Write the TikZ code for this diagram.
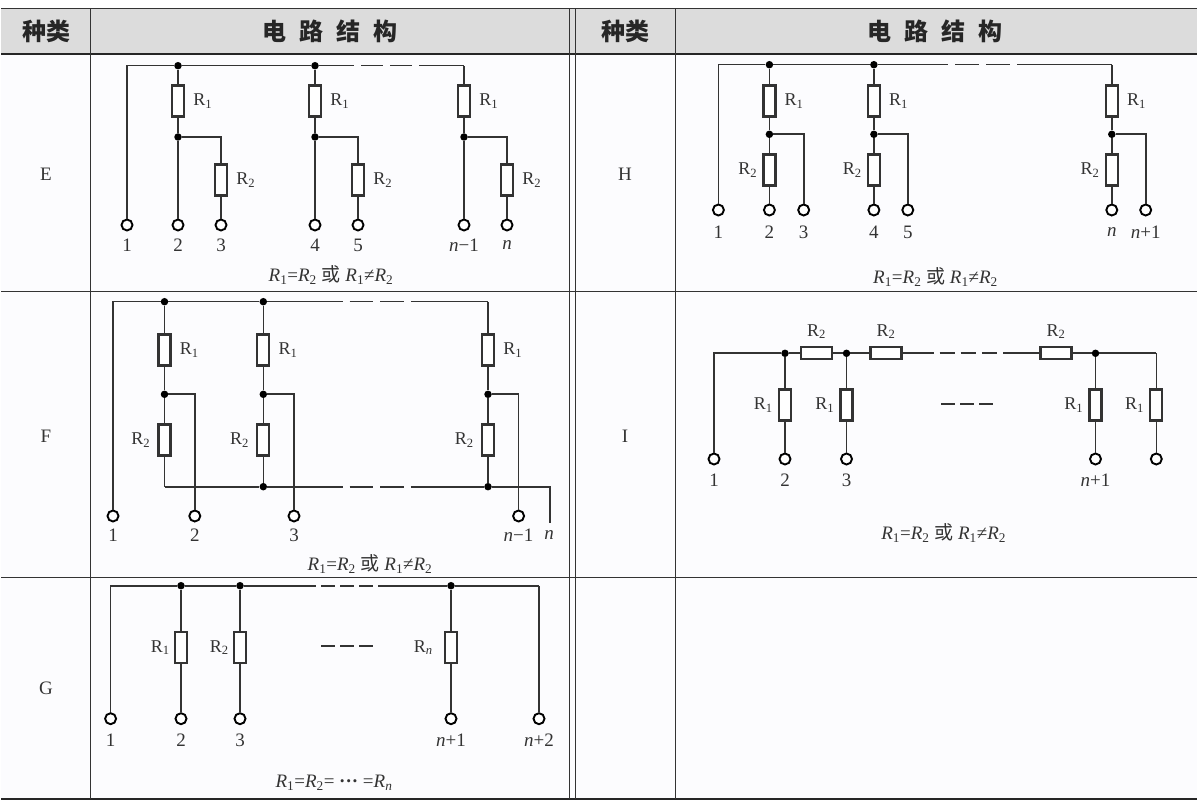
\documentclass[tikz,border=0pt]{standalone}
\usepackage{fontspec}
\setmainfont{Liberation Serif}
\newfontfamily\cjk{Noto Sans CJK SC}
\usetikzlibrary{positioning}
\definecolor{wirec}{HTML}{333333}
\definecolor{headc}{HTML}{DCDCDC}
\definecolor{cellc}{HTML}{FCFCFE}
\newcommand{\Rx}[1]{R\textsubscript{#1}}
\newcommand{\Ri}[1]{\textit{R}\textsubscript{#1}}
\newcommand{\Rform}{\Ri{1}=\Ri{2} {\cjk 或} \Ri{1}≠\Ri{2}}
\tikzset{
    wire/.style={
    draw=wirec,line width=1.6pt
    },
    brk/.style 2 args={
    wire,dash pattern=on #1 off #2,dash phase=#1
    },
    midbrk/.style={
    wire,line width=1.8pt,dash pattern=on 14pt off 5pt
    },
    rule/.style={
    draw=wirec,line width=1pt
    },
    thickrule/.style={
    draw=black!85,line width=2pt
    },
    dotn/.style={
    circle,fill=black,inner sep=0pt,minimum size=7.5pt
    },
    nodot/.style={
    inner sep=0pt,minimum size=0pt
    },
    term/.style={
    circle,draw=black,line width=1.9pt,fill=white,inner sep=0pt,minimum size=11pt
    },
    resv/.style={
    rectangle,draw=wirec,line width=2.2pt,fill=white,inner sep=0pt,minimum width=12pt,minimum height=31pt
    },
    resh/.style={
    rectangle,draw=wirec,line width=2.2pt,fill=white,inner sep=0pt,minimum width=31pt,minimum height=12pt
    },
    rlab/.style={
    inner sep=0pt,text=wirec,font=\fontsize{18}{18}\selectfont
    },
    tlab/.style={
    inner sep=0pt,text=wirec,font=\fontsize{19}{19}\selectfont
    },
    kind/.style={
    inner sep=0pt,text=wirec,font=\fontsize{19}{19}\selectfont
    },
    formula/.style={
    inner sep=0pt,text=wirec,font=\fontsize{19}{19}\selectfont
    },
    head/.style={
    inner sep=0pt,text=black!85,font=\cjk\bfseries\fontsize{24}{24}\selectfont
    },
}
\begin{document}
\begin{tikzpicture}[x=1pt,y=-1pt]
   \useasboundingbox (0,0) rectangle (1200,802);
   \fill[cellc] (1,54) rectangle (1197,799);
   \fill[headc] (1,9) rectangle (1197,54);
   \draw[rule] (1,9) -- (1197,9);
   \draw[thickrule] (1,54) -- (1197,54);
   \draw[rule] (1,292) -- (1197,292);
   \draw[rule] (1,577) -- (1197,577);
   \draw[thickrule] (1,799) -- (1197,799);
   \foreach \xv in {90,569.5,575,675.5}
      \draw[rule] (\xv,9) -- (\xv,799);

   \node[head] (hdA) at (47,31) {种类};
   \node[head] (hdB) at (330,31) {电\hspace{13pt}路\hspace{13pt}结\hspace{13pt}构};
   \node[head] (hdC) at (625,31) {种类};
   \node[head] (hdD) at (935,31) {电\hspace{13pt}路\hspace{13pt}结\hspace{13pt}构};
   \node[kind] (kE) at (46,174) {E};
   \node[kind] (kF) at (46,436) {F};
   \node[kind] (kG) at (46,688) {G};
   \node[kind] (kH) at (625,174) {H};
   \node[kind] (kI) at (625,436) {I};

   \node[term] (eS) at (127,225) {};
   \node[tlab] (eN) at (127,245) {1};
   \coordinate (eGa) at (354,65.7);
   \coordinate (eGb) at (419,65.7);
   \foreach \nm/\xa/\xb/\la/\lb/\st in {a/178/221/2/3/dotn,b/315/358/4/5/dotn,c/464/507/\textit{n}−1/\textit{n}/nodot}{
      \node[\st] (e\nm J) at (\xa,65.7) {};
      \node[resv] (e\nm A) at (\xa,101) {};
      \node[dotn] (e\nm K) at (\xa,137) {};
      \node[resv] (e\nm B) at (\xb,180) {};
      \node[term] (e\nm S) at (\xa,225) {};
      \node[term] (e\nm T) at (\xb,225) {};
      \node[rlab,right=8pt of e\nm A] (e\nm P) {\Rx{1}};
      \node[rlab,right=8pt of e\nm B] (e\nm Q) {\Rx{2}};
      \node[tlab] (e\nm M) at (\xa,245) {\la};
      \node[tlab] (e\nm N) at (\xb,245) {\lb};
      \draw[wire] (e\nm J) -- (e\nm A) -- (e\nm K) -- (e\nm S);
      \draw[wire] (e\nm K) -| (e\nm B);
      \draw[wire] (e\nm B) -- (e\nm T);
   }
   \draw[wire] (eS) |- (eaJ);
   \draw[wire] (eaJ) -- (ebJ) -- (eGa);
   \draw[brk={22pt}{7pt}] (eGa) -- (eGb);
   \draw[wire] (eGb) -- (ecJ);
   \node[formula] (eF) at (331,275) {\Rform};

   \node[term] (fS) at (113,516) {};
   \node[tlab] (fN) at (113,535) {1};
   \coordinate (fGa) at (342.5,301.7);
   \coordinate (fGb) at (411,301.7);
   \coordinate (fGc) at (342.5,486.7);
   \coordinate (fGd) at (411,486.7);
   \coordinate (fE) at (550,523);
   \foreach \nm/\xa/\xb/\la/\st/\sb in {a/164.5/194.8/2/dotn/nodot,b/263.3/294/3/dotn/dotn,c/488/518.6/\textit{n}−1/nodot/dotn}{
      \node[\st] (f\nm J) at (\xa,301.7) {};
      \node[resv] (f\nm A) at (\xa,350) {};
      \node[dotn] (f\nm K) at (\xa,394.3) {};
      \node[resv] (f\nm B) at (\xa,440) {};
      \node[\sb] (f\nm L) at (\xa,486.7) {};
      \node[term] (f\nm T) at (\xb,516) {};
      \node[rlab,right=8pt of f\nm A] (f\nm P) {\Rx{1}};
      \node[rlab,left=7pt of f\nm B] (f\nm Q) {\Rx{2}};
      \node[tlab] (f\nm M) at (\xb,535) {\la};
      \draw[wire] (f\nm J) -- (f\nm A) -- (f\nm K) -- (f\nm B) -- (f\nm L);
      \draw[wire] (f\nm K) -| (f\nm T);
   }
   \draw[wire] (fS) |- (faJ);
   \draw[wire] (faJ) -- (fbJ) -- (fGa);
   \draw[brk={23.7pt}{7pt}] (fGa) -- (fGb);
   \draw[wire] (fGb) -- (fcJ);
   \draw[wire] (faL) -- (fbL) -- (fGc);
   \draw[brk={23.7pt}{7pt}] (fGc) -- (fGd);
   \draw[wire] (fGd) -- (fcL);
   \draw[wire] (fcL) -| (fE);
   \node[tlab] (fO) at (549,535) {\textit{n}};
   \node[formula] (fF) at (370,564) {\Rform};

   \node[term] (gS) at (110.6,718.7) {};
   \node[tlab] (gN) at (110.6,740.7) {1};
   \node[term] (gZ) at (539,718.7) {};
   \node[tlab] (gY) at (539,740.7) {\textit{n}+2};
   \node[nodot] (gC) at (539,585.7) {};
   \coordinate (gGa) at (316,585.7);
   \coordinate (gGb) at (378,585.7);
   \coordinate (gDa) at (321,646.3);
   \coordinate (gDb) at (373,646.3);
   \foreach \nm/\xa/\la/\lr/\gp in {a/181/2/\Rx{1}/4pt,b/240/3/\Rx{2}/4pt,c/451/\textit{n}+1/R\textsubscript{\textit{n}}/11pt}{
      \node[dotn] (g\nm J) at (\xa,585.7) {};
      \node[resv] (g\nm A) at (\xa,647.5) {};
      \node[term] (g\nm T) at (\xa,718.7) {};
      \node[rlab,left=\gp of g\nm A] (g\nm P) {\lr};
      \node[tlab] (g\nm M) at (\xa,740.7) {\la};
      \draw[wire] (g\nm J) -- (g\nm A) -- (g\nm T);
   }
   \draw[wire] (gS) |- (gaJ);
   \draw[wire] (gaJ) -- (gbJ) -- (gGa);
   \draw[brk={14pt}{5pt}] (gGa) -- (gGb);
   \draw[wire] (gGb) -- (gcJ) -- (gC);
   \draw[wire] (gC) -- (gZ);
   \draw[midbrk] (gDa) -- (gDb);
   \node[formula] (gF) at (334,783) {\Ri{1}=\Ri{2}= \textbf{···} =\Ri{\textit{n}}};

   \node[term] (hS) at (718.4,210) {};
   \node[tlab] (hN) at (718.4,232) {1};
   \coordinate (hGa) at (948,64.7);
   \coordinate (hGb) at (1017,64.7);
   \foreach \nm/\xa/\xb/\la/\lb/\st in {a/769.4/803.7/2/3/dotn,b/873.9/907.8/4/5/dotn,c/1111.8/1145.7/\textit{n}/\textit{n}+1/nodot}{
      \node[\st] (h\nm J) at (\xa,64.7) {};
      \node[resv] (h\nm A) at (\xa,101) {};
      \node[dotn] (h\nm K) at (\xa,134.3) {};
      \node[resv] (h\nm B) at (\xa,170) {};
      \node[term] (h\nm S) at (\xa,210) {};
      \node[term] (h\nm T) at (\xb,210) {};
      \node[rlab,right=8pt of h\nm A] (h\nm P) {\Rx{1}};
      \node[rlab,left=5pt of h\nm B] (h\nm Q) {\Rx{2}};
      \node[tlab] (h\nm M) at (\xa,232) {\la};
      \node[tlab] (h\nm N) at (\xb,232) {\lb};
      \draw[wire] (h\nm J) -- (h\nm A) -- (h\nm K) -- (h\nm B) -- (h\nm S);
      \draw[wire] (h\nm K) -| (h\nm T);
   }
   \draw[wire] (hS) |- (haJ);
   \draw[wire] (haJ) -- (hbJ) -- (hGa);
   \draw[brk={24pt}{7pt}] (hGa) -- (hGb);
   \draw[wire] (hGb) -- (hcJ);
   \node[formula] (hF) at (935.5,277) {\Rform};

   \node[term] (iS) at (714,459) {};
   \node[tlab] (iN) at (714,480) {1};
   \node[resh] (iHa) at (816.5,353.3) {};
   \node[resh] (iHb) at (886,353.3) {};
   \node[resh] (iHc) at (1056,353.3) {};
   \foreach \nh in {a,b,c}
      \node[rlab,above=7pt of iH\nh] (iU\nh) {\Rx{2}};
   \coordinate (iGa) at (933.5,353.3);
   \coordinate (iGb) at (1003,353.3);
   \foreach \nm/\xa/\st in {a/785/dotn,b/846.5/dotn,c/1095.5/dotn,d/1156.3/nodot}{
      \node[\st] (i\nm J) at (\xa,353.3) {};
      \node[resv] (i\nm A) at (\xa,405) {};
      \node[term] (i\nm T) at (\xa,459) {};
      \node[rlab,left=5pt of i\nm A] (i\nm P) {\Rx{1}};
      \draw[wire] (i\nm J) -- (i\nm A) -- (i\nm T);
   }
   \node[tlab] (iMa) at (785,480) {2};
   \node[tlab] (iMb) at (846.5,480) {3};
   \node[tlab] (iMc) at (1095.5,480) {\textit{n}+1};
   \draw[wire] (iS) |- (iaJ);
   \draw[wire] (iaJ) -- (iHa) -- (ibJ) -- (iHb) -- (iGa);
   \draw[brk={15.2pt}{6pt}] (iGa) -- (iGb);
   \draw[wire] (iGb) -- (iHc) -- (icJ) -- (idJ);
   \coordinate (iDa) at (941,404);
   \coordinate (iDb) at (995,404);
   \draw[midbrk] (iDa) -- (iDb);
   \node[formula] (iF) at (943.7,532.7) {\Rform};
\end{tikzpicture}
\end{document}
